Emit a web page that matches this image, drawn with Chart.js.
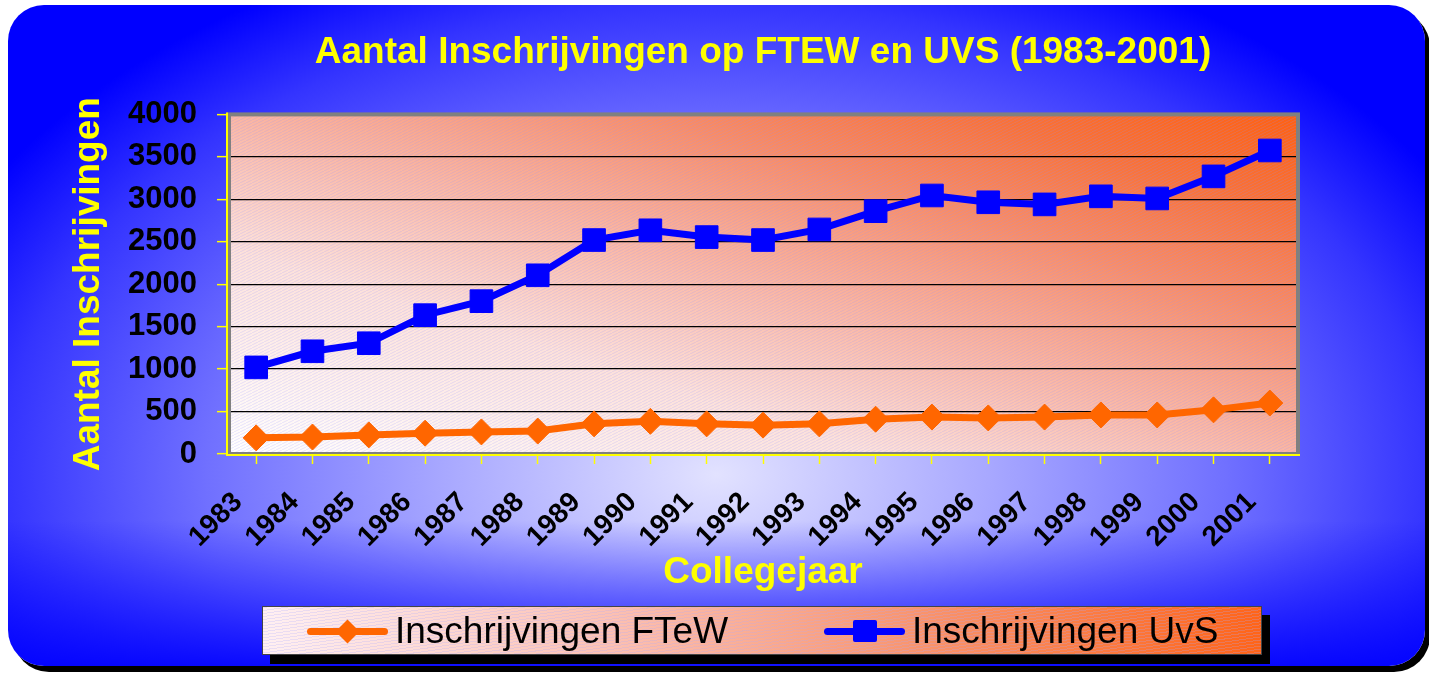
<!DOCTYPE html>
<html lang="nl">
<head>
<meta charset="utf-8">
<title>Aantal Inschrijvingen op FTEW en UVS (1983-2001)</title>
<script src="https://cdn.jsdelivr.net/npm/chart.js@4.4.1/dist/chart.umd.min.js"></script>
<style>
    html, body { margin: 0; padding: 0; background: #ffffff; }
    body {
        width: 1429px; height: 676px; position: relative; overflow: hidden;
        font-family: Arial, 'Liberation Sans', sans-serif;
    }
    /* blauw paneel met afgeronde hoeken en zwarte schaduw */
    #paneel {
        position: absolute; left: 8px; top: 5px; width: 1417px; height: 661px;
        border-radius: 36px;
        box-shadow: 5px 6px 0 #000000;
        background:
            linear-gradient(to top, rgba(0,0,255,0.9) 0%, rgba(0,0,255,0) 22%),
            radial-gradient(ellipse 60% 85% at 50% 71%, #e2e2ff 0%, #a8a8ff 32%, #7070ff 60%, #3434ff 84%, #0000ff 100%);
    }
    #grafiek { position: absolute; left: 0; top: 0; }
    #legenda {
        position: absolute; left: 262px; top: 606px; width: 998px; height: 47px;
        border: 1px solid #444;
        box-shadow: 8px 9px 0 #000000;
        background:
            repeating-linear-gradient(172deg, rgba(170,170,255,0.25) 0px, rgba(170,170,255,0.25) 1px, rgba(255,255,255,0) 1px, rgba(255,255,255,0) 3px),
            linear-gradient(to right, #fff0f2 0%, #fcc0b2 35%, #f9956f 65%, #ff6418 100%);
    }
    #legenda .item {
        position: absolute; top: 0; height: 47px; display: flex; align-items: center;
        font-size: 37px; color: #000; white-space: nowrap;
    }
    #legenda .item:nth-child(1) { left: 44px; }
    #legenda .item:nth-child(2) { left: 561px; }
    #legenda .staal { position: relative; width: 81px; height: 24px; margin-right: 7px; }
    #legenda .lijn {
        position: absolute; left: 0; right: 0; top: 9px; height: 7px; border-radius: 4px;
    }
    #legenda .ruit {
        position: absolute; left: 32px; top: 4px; width: 17px; height: 17px; transform: rotate(45deg);
    }
    #legenda .blok {
        position: absolute; left: 29px; top: 1px; width: 24px; height: 22px; border-radius: 2px;
    }
</style>
</head>
<body>
<div id="paneel"></div>
<canvas id="grafiek" width="1429" height="676"></canvas>
<div id="legenda"></div>

<script>
// ── Gegevens ──
const jaren = ['1983', '1984', '1985', '1986', '1987', '1988', '1989', '1990', '1991', '1992',
               '1993', '1994', '1995', '1996', '1997', '1998', '1999', '2000', '2001'];
const inschrijvingenFTeW = [190, 200, 225, 245, 260, 270, 355, 385, 355, 340,
                            355, 410, 435, 425, 435, 460, 460, 520, 600];
const inschrijvingenUvS = [1020, 1210, 1305, 1635, 1800, 2105, 2520, 2635, 2555, 2520,
                           2645, 2860, 3045, 2965, 2940, 3035, 3010, 3270, 3575];
const yTicks = [0, 500, 1000, 1500, 2000, 2500, 3000, 3500, 4000];

const geel = '#ffff00';
const oranje = '#ff6600';
const blauw = '#0000ff';

// Achtergrond van het plotgebied: diagonaal verloop wit → oranje + fijne arcering
const plotAchtergrond = {
    id: 'plotAchtergrond',
    beforeDraw(chart) {
        const { ctx, chartArea: a } = chart;
        ctx.save();
        ctx.translate(a.left, a.top);
        ctx.scale(a.right - a.left, a.bottom - a.top);
        const grad = ctx.createLinearGradient(0, 1, 1, 0);
        grad.addColorStop(0, '#ffffff');
        grad.addColorStop(0.3, '#fde2dc');
        grad.addColorStop(0.5, '#fbb6a3');
        grad.addColorStop(0.7, '#f98c66');
        grad.addColorStop(0.85, '#fa7238');
        grad.addColorStop(1, '#ff6010');
        ctx.fillStyle = grad;
        ctx.fillRect(0, 0, 1, 1);
        ctx.restore();

        // arcering
        const p = document.createElement('canvas');
        p.width = 6; p.height = 3;
        const pc = p.getContext('2d');
        pc.strokeStyle = 'rgba(150,150,255,0.22)';
        pc.lineWidth = 1;
        pc.beginPath(); pc.moveTo(0, 3); pc.lineTo(6, 0); pc.stroke();
        ctx.save();
        ctx.fillStyle = ctx.createPattern(p, 'repeat');
        ctx.fillRect(a.left, a.top, a.right - a.left, a.bottom - a.top);
        ctx.restore();
    }
};

// Grijze rand rond plotgebied + gele assen
const plotRand = {
    id: 'plotRand',
    beforeDatasetsDraw(chart) {
        const { ctx, chartArea: a } = chart;
        ctx.save();
        ctx.strokeStyle = '#808080';
        ctx.lineWidth = 4;
        ctx.strokeRect(a.left + 1, a.top, a.right - a.left - 1, a.bottom - a.top);
        ctx.strokeStyle = geel;
        ctx.lineWidth = 2;
        ctx.beginPath();
        ctx.moveTo(a.left - 1, a.top - 2);
        ctx.lineTo(a.left - 1, a.bottom + 1);
        ctx.lineTo(a.right + 2, a.bottom + 1);
        ctx.stroke();
        ctx.restore();
    }
};

Chart.defaults.font.family = "Arial, 'Liberation Sans', sans-serif";

const grafiek = new Chart(document.getElementById('grafiek'), {
    type: 'line',
    data: {
        labels: jaren,
        datasets: [{
            label: 'Inschrijvingen FTeW',
            data: inschrijvingenFTeW,
            borderColor: oranje,
            backgroundColor: oranje,
            borderWidth: 7,
            pointStyle: 'rectRot',
            pointRadius: 13,
            pointBorderWidth: 1,
            tension: 0
        }, {
            label: 'Inschrijvingen UvS',
            data: inschrijvingenUvS,
            borderColor: blauw,
            backgroundColor: blauw,
            borderWidth: 7,
            pointStyle: 'rect',
            pointRadius: 16,
            pointBorderWidth: 1,
            tension: 0
        }]
    },
    options: {
        responsive: false,
        animation: false,
        layout: { padding: { left: 58, right: 131, top: 26, bottom: 81 } },
        plugins: {
            legend: { display: false },
            tooltip: { enabled: false },
            title: {
                display: true,
                text: 'Aantal Inschrijvingen op FTEW en UVS (1983-2001)',
                color: geel,
                fullSize: false,
                font: { size: 37, weight: 'bold' },
                padding: { top: 5, bottom: 39 }
            }
        },
        scales: {
            x: {
                offset: true,
                grid: {
                    drawOnChartArea: false,
                    tickColor: geel,
                    tickLength: 10,
                    tickWidth: 1.5
                },
                border: { display: false },
                ticks: {
                    color: '#000',
                    font: { size: 28, weight: 'bold' },
                    minRotation: 45,
                    maxRotation: 45,
                    padding: 22,
                    labelOffset: -18,
                    autoSkip: false
                },
                title: {
                    display: true,
                    text: 'Collegejaar',
                    color: geel,
                    font: { size: 37, weight: 'bold' },
                    padding: { top: 0, bottom: 0 }
                },
                afterFit: s => { s.height = 141; }
            },
            y: {
                min: 0,
                max: 4000,
                afterBuildTicks: s => { s.ticks = yTicks.map(v => ({ value: v })); },
                grid: {
                    color: '#000',
                    lineWidth: 1.3,
                    tickColor: geel,
                    tickLength: 11,
                    tickWidth: 1.5
                },
                border: { display: false },
                ticks: {
                    color: '#000',
                    font: { size: 31, weight: 'bold' },
                    padding: 20,
                    callback: v => String(v)
                },
                title: {
                    display: true,
                    text: 'Aantal Inschrijvingen',
                    color: geel,
                    font: { size: 37, weight: 'bold' },
                    padding: { top: 9, bottom: 0 }
                },
                afterFit: s => { s.width = 170; }
            }
        }
    },
    plugins: [plotAchtergrond, plotRand]
});

// ── Legenda in HTML, opgebouwd uit de datasets ──
const legenda = document.getElementById('legenda');
grafiek.data.datasets.forEach(ds => {
    const item = document.createElement('div');
    item.className = 'item';
    const staal = document.createElement('span');
    staal.className = 'staal';
    const lijn = document.createElement('span');
    lijn.className = 'lijn';
    lijn.style.background = ds.borderColor;
    const merk = document.createElement('span');
    merk.className = ds.pointStyle === 'rectRot' ? 'ruit' : 'blok';
    merk.style.background = ds.backgroundColor;
    staal.appendChild(lijn);
    staal.appendChild(merk);
    item.appendChild(staal);
    item.appendChild(document.createTextNode(ds.label));
    legenda.appendChild(item);
});
</script>
</body>
</html>
